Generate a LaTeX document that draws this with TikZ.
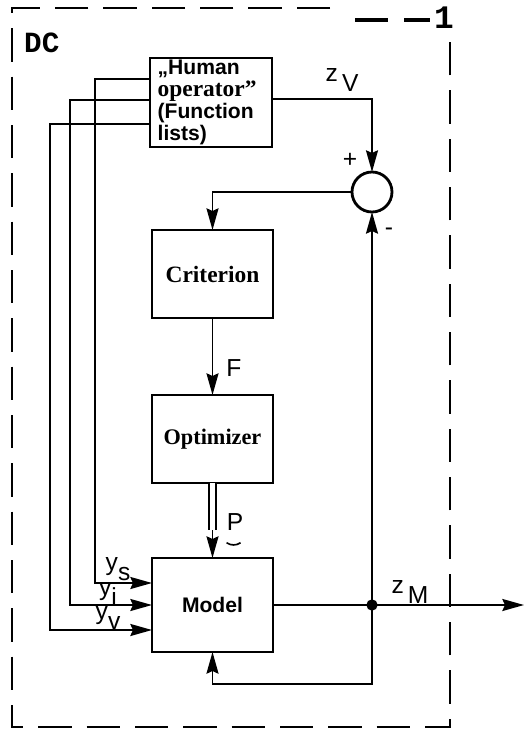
\documentclass[tikz,border=0pt]{standalone}
\usepackage{fontspec}
\setmainfont{Liberation Serif}
\setsansfont{Liberation Sans}
\setmonofont{Liberation Mono}
\usetikzlibrary{arrows.meta}

\tikzset{
  blk/.style={draw, line width=2.4pt, minimum width=36.3mm, minimum height=26.4mm,
    inner sep=0pt, outer sep=0pt},
  sig/.style={line width=1.7pt},
  tip/.style={-{Stealth[length=6.5mm, width=3.6mm, inset=0.8mm]}},
  frame/.style={line width=2.4pt, dash pattern=on 10mm off 4.5mm},
  lbl/.style={font=\sffamily\fontsize{21}{21}\selectfont, inner sep=0pt},
}
\newcommand{\lowidx}[2]{#1\raisebox{-0.4em}{#2}}

\begin{document}
\begin{tikzpicture}[x=0.3mm, y=-0.3mm]
\useasboundingbox (0,0) rectangle (524,729);

%% -- dashed frame ------------------------------------------------
\draw[frame] (330,8) -- (12,8) -- (12,727) -- (450,727) -- (450,40);
\draw[line width=3pt] (355,20) -- (388,20) (404,20) -- (430,20);
\node[font=\ttfamily\bfseries\fontsize{28}{28}\selectfont, inner sep=0pt] (one) at (444,18) {1};
\node[font=\ttfamily\bfseries\fontsize{25}{25}\selectfont, inner sep=0pt, anchor=west] (dc) at (24,43) {DC};

%% -- blocks ------------------------------------------------------
\node[blk, minimum width=36.6mm, minimum height=26.7mm, text width=32mm, align=left,
  font=\sffamily\bfseries\fontsize{18}{19}\selectfont] (human) at (211,102.5)
  {„Human\\{\rmfamily\fontsize{20}{19}\selectfont operator”}\\(Function\\lists)};
\node[blk, font=\rmfamily\bfseries\fontsize{20}{20}\selectfont] (crit) at (212.5,274) {Criterion};
\node[blk, font=\rmfamily\bfseries\fontsize{19}{19}\selectfont] (opt) at (212.5,439) {Optimizer};
\node[blk, minimum height=28.2mm, font=\sffamily\bfseries\fontsize{18}{18}\selectfont] (model) at (212.5,605) {Model};
\node[draw, circle, line width=2.4pt, minimum size=12mm, inner sep=0pt, outer sep=0pt] (sum) at (372,192) {};

%% -- main loop ---------------------------------------------------
\coordinate (dot) at (sum.south |- model.east);
\coordinate (out) at (524,605);
\coordinate (fb) at (dot |- 0,684);
\coordinate (ptip) at (opt.south |- 0,530);
\draw[sig, tip] (human.east |- 0,99) -| (sum.north);
\draw[sig, tip] (sum.west) -| (crit.north);
\draw[sig, tip] (crit) -- (opt);
\draw[sig, double, double distance=1.4mm] (opt.south) -- (ptip);
\draw[sig, tip] (ptip) -- (model.north);
\draw[sig] (model.east) -- (dot);
\draw[sig, tip] (dot) -- (out);
\draw[sig, tip] (dot) -- (sum.south);
\draw[sig, tip] (dot) -- (fb) -| (model.south);
\fill (dot) circle (1.7mm);

%% -- inputs from the operator ------------------------------------
\coordinate (ys) at (95,583);
\coordinate (yi) at (70,605);
\coordinate (yv) at (50,630);
\draw[sig, tip] (human.west |- 0,79) -| (ys) -- (model.west |- ys);
\draw[sig, tip] (human.west |- 0,100) -| (yi) -- (model.west |- yi);
\draw[sig, tip] (human.west |- 0,124) -| (yv) -- (model.west |- yv);

%% -- labels ------------------------------------------------------
\node[lbl] (lys) at (118,569) {\lowidx{y}{s}};
\node[lbl] (lyi) at (108,594) {\lowidx{y}{i}};
\node[lbl] (lyv) at (108,618) {\lowidx{y}{v}};
\node[lbl] (lzv) at (342,80) {\lowidx{z}{\,V}};
\node[lbl] (lzm) at (410,592) {\lowidx{z}{\,M}};
\node[lbl] (plus) at (350,160) {+};
\node[lbl] (minus) at (389,232) {-};
\node[lbl] (lf) at (234,368) {F};
\node[lbl] (lp) at (235,522) {P};
\draw[line width=1.4pt] (lp.south west) ++(0,12) .. controls +(4,3) and +(-4,3) .. +(14,0);

\end{tikzpicture}
\end{document}
